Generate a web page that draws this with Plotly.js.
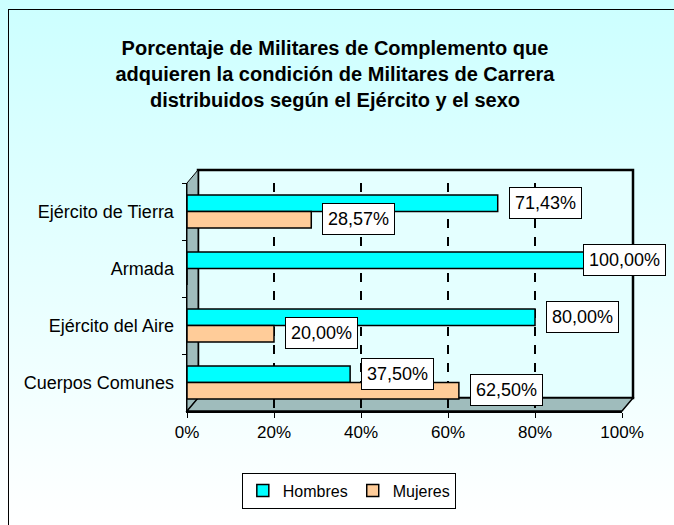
<!DOCTYPE html>
<html>
<head>
<meta charset="utf-8">
<script src="https://cdn.plot.ly/plotly-3.0.1.min.js"></script>
<style>
  html, body { margin: 0; padding: 0; }
  #wrap {
    position: relative;
    width: 674px;
    height: 525px;
    background: linear-gradient(#ccffff 0%, #e8ffff 55%, #ffffff 100%);
  }
  #frame {
    position: absolute;
    left: 8px; top: 9px; right: -2px; bottom: -2px;
    border-left: 1px solid #000;
    border-top: 1px solid #000;
    pointer-events: none;
  }
  #plot { position: absolute; left: 0; top: 0; width: 674px; height: 525px; }
</style>
</head>
<body>
<div id="wrap">
  <div id="plot"></div>
  <div id="frame"></div>
</div>
<script>
// Datos
const categorias = ['Ejército de Tierra', 'Armada', 'Ejército del Aire', 'Cuerpos Comunes'];
const hombres = [71.43, 100, 80, 37.5];
const mujeres = [28.57, 0, 20, 62.5];
const xTicks = [0, 20, 40, 60, 80, 100];
const xTickText = ['0%', '20%', '40%', '60%', '80%', '100%'];

const fontFamily = 'Liberation Sans, Arial, sans-serif';

// geometría del área de trazado (px)
const plotLeft = 187;
const plotWidth = 435;
const plotTop = 183;
const plotHeight = 228;
const labelMaxRight = 668;   // para que la etiqueta no salga del lienzo

// profundidad del efecto 3D (en fracción del área)
const dx = 11 / plotWidth;
const dy = 13 / plotHeight;

function fmt(v) {
    return v.toFixed(2).replace('.', ',') + '%';
}

const traceH = {
    type: 'bar',
    orientation: 'h',
    name: 'Hombres',
    y: categorias,
    x: hombres,
    marker: { color: '#00ffff', line: { color: '#000', width: 1.5 } },
    hoverinfo: 'skip'
};

const traceM = {
    type: 'bar',
    orientation: 'h',
    name: 'Mujeres',
    y: categorias,
    x: mujeres,
    marker: { color: '#ffcc99', line: { color: '#000', width: 1.5 } },
    hoverinfo: 'skip'
};

// Etiquetas en recuadro blanco junto al final de cada barra
const annotations = [];
categorias.forEach((c, i) => {
    [[hombres[i], 9], [mujeres[i], -7]].forEach(([v, dyLabel]) => {
        if (v <= 0) return;
        const text = fmt(v);
        const px = plotLeft + v / 100 * plotWidth;
        const boxW = text.length * 10.5 + 12;  // ancho aproximado del recuadro
        annotations.push({
            x: v, y: c, xref: 'x', yref: 'y',
            text: text,
            showarrow: false,
            xanchor: 'left',
            xshift: Math.min(11, labelMaxRight - boxW - px),
            yshift: dyLabel,
            bgcolor: '#ffffff',
            bordercolor: '#000',
            borderwidth: 1,
            borderpad: 5,
            font: { family: fontFamily, size: 18, color: '#000' }
        });
    });
});

// Paredes del marco 3D (pared de fondo, pared izquierda y suelo)
const wallColor = '#9fbcbc';
const shapes = [
    {
        type: 'rect', xref: 'paper', yref: 'paper', layer: 'below',
        x0: dx, x1: 1 + dx, y0: dy, y1: 1 + dy,
        fillcolor: '#e4ffff',
        line: { color: '#000', width: 2.5 }
    },
    {
        type: 'path', xref: 'paper', yref: 'paper', layer: 'below',
        path: `M 0 0 L ${dx} ${dy} L ${dx} ${1 + dy} L 0 1 Z`,
        fillcolor: wallColor,
        line: { color: '#000', width: 1 }
    },
    {
        type: 'path', xref: 'paper', yref: 'paper', layer: 'below',
        path: `M 0 0 L 1 0 L ${1 + dx} ${dy} L ${dx} ${dy} Z`,
        fillcolor: wallColor,
        line: { color: '#000', width: 1.5 }
    }
];

const layout = {
    width: 674,
    height: 525,
    paper_bgcolor: 'rgba(0,0,0,0)',
    plot_bgcolor: 'rgba(0,0,0,0)',
    barmode: 'group',
    bargap: 0.42,
    bargroupgap: 0,
    margin: { l: plotLeft, r: 674 - plotLeft - plotWidth, t: plotTop, b: 525 - plotTop - plotHeight },
    title: {
        text: '<b>Porcentaje de Militares de Complemento que<br>adquieren la condición de Militares de Carrera<br>distribuidos según el Ejército y el sexo</b>',
        font: { family: fontFamily, size: 20, color: '#000' },
        x: 0.497, xref: 'container', xanchor: 'center',
        y: 0.895, yref: 'container', yanchor: 'top'
    },
    xaxis: {
        range: [0, 100],
        tickvals: xTicks,
        ticktext: xTickText,
        ticks: 'outside',
        ticklen: 5,
        tickcolor: '#000',
        showline: true,
        linecolor: '#000',
        linewidth: 1.5,
        mirror: false,
        showgrid: true,
        gridcolor: '#000',
        gridwidth: 2,
        griddash: 'dash',
        zeroline: false,
        fixedrange: true,
        tickfont: { family: fontFamily, size: 17, color: '#000' }
    },
    yaxis: {
        autorange: 'reversed',
        type: 'category',
        ticks: 'outside',
        tickson: 'boundaries',
        ticklen: 4,
        tickcolor: '#000',
        showline: true,
        linecolor: '#000',
        linewidth: 1.5,
        mirror: false,
        showgrid: false,
        fixedrange: true,
        ticklabelstandoff: 8,
        tickfont: { family: fontFamily, size: 18, color: '#000' }
    },
    showlegend: true,
    legend: {
        orientation: 'h',
        x: 0.372, xanchor: 'center',
        y: -0.27, yanchor: 'top',
        bgcolor: '#ffffff',
        bordercolor: '#000',
        borderwidth: 1,
        font: { family: fontFamily, size: 16, color: '#000' }
    },
    shapes: shapes,
    annotations: annotations
};

const config = {
    displayModeBar: false,
    staticPlot: true
};

Plotly.newPlot('plot', [traceH, traceM], layout, config);
</script>
</body>
</html>
